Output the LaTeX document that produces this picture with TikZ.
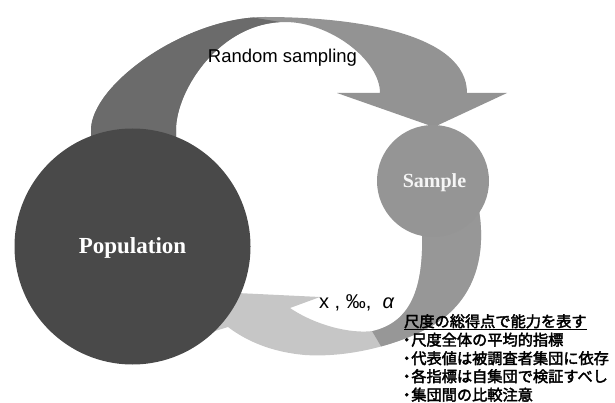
\documentclass[tikz,border=0pt]{standalone}
\usepackage{fontspec}
\setmainfont{Liberation Serif}
\newfontfamily\sansf{Liberation Sans}
\newfontfamily\jpf[AutoFakeBold=2.5]{Noto Sans CJK JP}
\newcommand{\jbul}{\makebox[0.6em][c]{・}}
\definecolor{popc}{HTML}{494949}
\definecolor{topdark}{HTML}{6B6B6B}
\definecolor{toplight}{HTML}{939393}
\definecolor{botlight}{HTML}{C6C6C6}
\definecolor{botdark}{HTML}{979797}
\definecolor{samplec}{HTML}{959595}
\tikzset{
  topband/.style={insert path={
    (91,137) -- (91,130) .. controls (91,85) and (185,17) .. (265,17)
    .. controls (360,17) and (467,35) .. (467,93)
    -- (507,93) -- (434,127) -- (337,93) -- (380,93)
    .. controls (380,60) and (330,22) .. (285,22)
    .. controls (220,22) and (176,90) .. (176,130)
    -- (176,137) -- cycle}},
  botband/.style={insert path={
    (450,195) -- (478,205) .. controls (487,250) and (478,300) .. (430,327)
    .. controls (400,344) and (350,358) .. (305,355)
    .. controls (270,352) and (245,340) .. (228,327)
    -- (202,335) -- (175,290) -- (320,297) -- (290,308)
    .. controls (315,325) and (350,334) .. (373,331)
    .. controls (410,322) and (424,290) .. (422,230)
    -- cycle}},
  bigtxt/.style={font=\bfseries, text=white, inner sep=0pt},
  lbl/.style={font=\sansf, inner sep=0pt, anchor=base},
  jpline/.style={font=\jpf\bfseries\fontsize{15.2pt}{17pt}\selectfont, inner sep=0pt, anchor=base west}
}
\begin{document}
\begin{tikzpicture}[x=1pt,y=-1pt]
\useasboundingbox (0,0) rectangle (615,403);
\clip (0,0) rectangle (615,403);
% top arrow
\fill[toplight, topband];
\begin{scope}
  \clip (0,-10) -- (200,-10) -- (250,17) -- (280,22) -- (300,140) -- (0,140) -- cycle;
  \fill[topdark, topband];
\end{scope}
% bottom arrow
\fill[botlight, botband];
\begin{scope}
  \clip (365,290) -- (372,331) -- (395,370) -- (615,370) -- (615,150) -- (365,150) -- cycle;
  \fill[botdark, botband];
\end{scope}
% circles
\fill[samplec] (433,181) circle[radius=56];
\fill[popc] (132.5,246.5) circle[radius=118];
% texts
\node[bigtxt, anchor=base, font=\bfseries\fontsize{23pt}{26pt}\selectfont] (pop) at (132.5,253) {Population};
\node[bigtxt, anchor=base, text=white!96!black, font=\bfseries\fontsize{20pt}{22pt}\selectfont] (samp) at (434.5,188) {Sample};
\node[lbl, font=\sansf\fontsize{18.5pt}{21pt}\selectfont] (rs) at (282.5,63) {Random sampling};
\node[lbl, anchor=base west, font=\sansf\fontsize{20pt}{22pt}\selectfont] (stats) at (319,308) {x , ‰,~~\textit{α}};
\node[jpline] (l1) at (404,327) {尺度の総得点で能力を表す};
\draw[line width=0.9pt] ([yshift=-2.5pt]l1.base west) -- ([yshift=-2.5pt]l1.base east);
\node[jpline] (l2) at (402,345.5) {\jbul 尺度全体の平均的指標};
\node[jpline] (l3) at (402,364) {\jbul 代表値は被調査者集団に依存};
\node[jpline] (l4) at (402,382) {\jbul 各指標は自集団で検証すべし};
\node[jpline] (l5) at (402,400.5) {\jbul 集団間の比較注意};
\end{tikzpicture}
\end{document}
